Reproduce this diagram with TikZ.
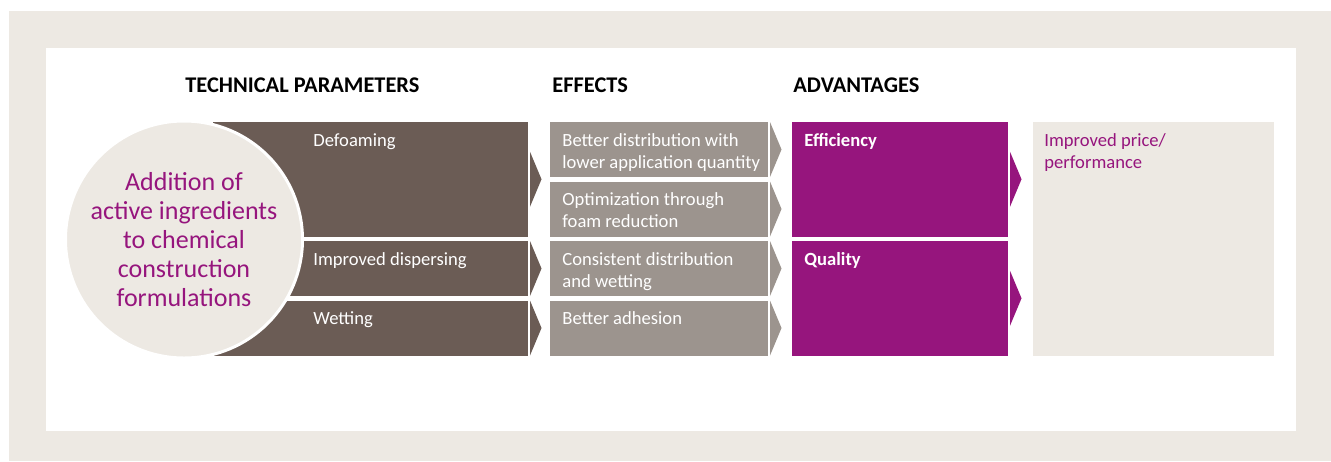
\documentclass[tikz,border=0pt]{standalone}
\usepackage{fontspec}
\setmainfont{Carlito}
\usetikzlibrary{positioning,calc}
\definecolor{framebeige}{HTML}{EDE9E3}
\definecolor{parambrown}{HTML}{6B5C55}
\definecolor{effectgray}{HTML}{9C948E}
\definecolor{advpurple}{HTML}{96157D}

\begin{document}
\begin{tikzpicture}[x=0.5pt,y=-0.5pt,
  box/.style={rectangle,inner sep=0pt,outer sep=0pt,anchor=north west,minimum width=#1},
  small/.style={minimum height=27.5pt},
  big/.style={minimum height=57.25pt},
  head/.style={font=\fontsize{11.2}{12}\selectfont\bfseries,inner sep=0pt,anchor=base west},
  lbl/.style={font=\fontsize{9.3}{11}\selectfont,inner sep=0pt,anchor=base west,align=left},
  tip/.style={fill=#1}]
\useasboundingbox (0,0) rectangle (1331,461);
% frame
\fill[framebeige] (9,11) rectangle (1331,461);
\fill[white] (46,48) rectangle (1296,431);

% column heads
\node[head] (hpar) at (185,92) {TECHNICAL PARAMETERS};
\node[head] (heff) at (552,92) {EFFECTS};
\node[head] (hadv) at (793,92) {ADVANTAGES};

% technical parameters
\node[box=157.5pt,big,fill=parambrown] (par1) at (213,122) {};
\node[box=157.5pt,small,fill=parambrown] (par2) at (213,241) {};
\node[box=157.5pt,small,fill=parambrown] (par3) at (213,300.5) {};

% effects
\node[box=109pt,small,fill=effectgray] (eff1) at (550,122) {};
\node[box=109pt,small,fill=effectgray] (eff2) at (550,181.5) {};
\node[box=109pt,small,fill=effectgray] (eff3) at (550,241) {};
\node[box=109pt,small,fill=effectgray] (eff4) at (550,300.5) {};

% advantages
\node[box=108.25pt,big,fill=advpurple] (adv1) at (791.5,122) {};
\node[box=108.25pt,big,fill=advpurple] (adv2) at (791.5,241) {};

% result
\node[box=120.5pt,minimum height=117pt,fill=framebeige] (res) at (1033,122) {};

% chevron tips
\foreach \b/\c in {par1/parambrown,par2/parambrown,par3/parambrown,
                   eff1/effectgray,eff2/effectgray,eff3/effectgray,eff4/effectgray,
                   adv1/advpurple,adv2/advpurple}
  \fill[tip=\c] ([xshift=1pt]\b.east) ++(0,-13.75pt) -- ++(5.75pt,13.75pt) -- ++(-5.75pt,13.75pt) -- cycle;

% circle
\node[circle,fill=framebeige,draw=white,line width=1.5pt,minimum size=118.5pt,inner sep=0pt,
      text=advpurple,align=center,font=\fontsize{13}{14.5}\selectfont] (add) at (184,239.5)
  {Addition of\\active ingredients\\to chemical\\construction\\formulations};

% labels (base of last line)
\node[lbl,text=white] (tdef) at ($(par1.north west)+(100,24)$) {Defoaming};
\node[lbl,text=white] (tdis) at ($(par2.north west)+(100,24)$) {Improved dispersing};
\node[lbl,text=white] (twet) at ($(par3.north west)+(100,24)$) {Wetting};

\node[lbl,text=white] (tbet) at ($(eff1.north west)+(12,46)$) {Better distribution with\\lower application quantity};
\node[lbl,text=white] (topt) at ($(eff2.north west)+(12,46)$) {Optimization through\\foam reduction};
\node[lbl,text=white] (tcon) at ($(eff3.north west)+(12,46)$) {Consistent distribution\\and wetting};
\node[lbl,text=white] (tadh) at ($(eff4.north west)+(12,24)$) {Better adhesion};

\node[lbl,text=white,font=\fontsize{9.3}{11}\selectfont\bfseries] (teff) at ($(adv1.north west)+(12.5,24)$) {Efficiency};
\node[lbl,text=white,font=\fontsize{9.3}{11}\selectfont\bfseries] (tqua) at ($(adv2.north west)+(12.5,24)$) {Quality};

\node[lbl,text=advpurple] (tres) at ($(res.north west)+(11,46)$) {Improved price/\\performance};
\end{tikzpicture}
\end{document}
